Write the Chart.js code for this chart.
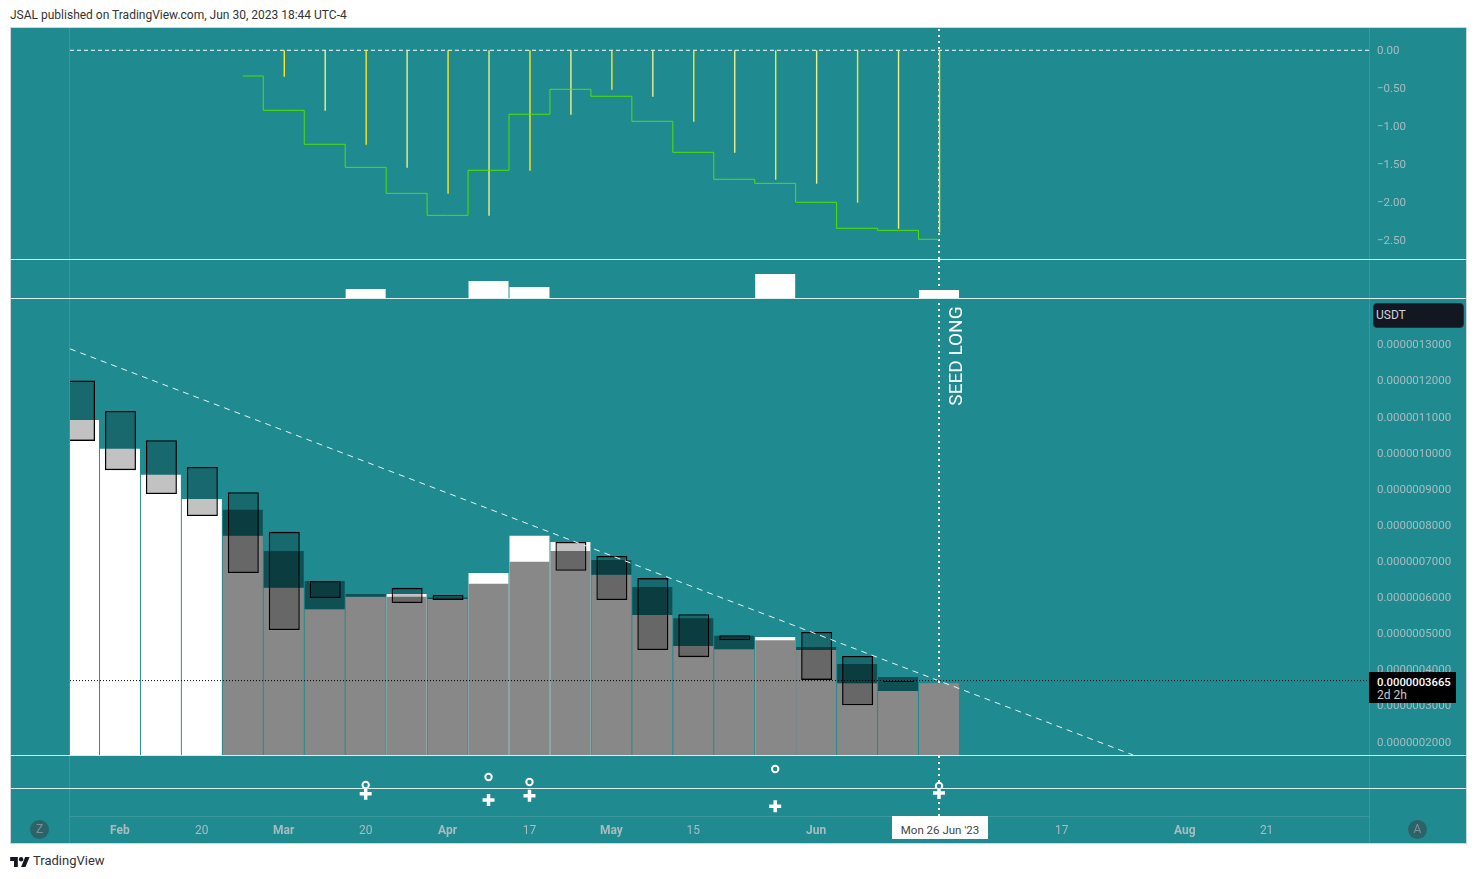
<!DOCTYPE html>
<html>
<head>
<meta charset="utf-8">
<title>JSAL weekly</title>
<script src="https://cdn.jsdelivr.net/npm/chart.js"></script>
<style>
    html, body { margin: 0; padding: 0; background: #fff; overflow: hidden; }
    body { width: 1477px; height: 879px; position: relative; font-family: Roboto, sans-serif; }
    canvas, .abs { position: absolute; }
    #frame { left: 10px; top: 27px; width: 1455px; height: 815px; background: #1f8a90; border: 1px solid #d1d4dc; }
    .vline { top: 28px; width: 1px; height: 815px; background: #3a989d; }
    .sep { left: 11px; width: 1455px; height: 1px; background: #dcefef; z-index: 5; }
    #title { left: 10px; top: 7px; font-size: 12px; line-height: 16px; color: #333; white-space: nowrap; }
    #brand { left: 33px; top: 853px; font-size: 13px; line-height: 16px; color: #333; }
    #logo { left: 10px; top: 856px; }
    #usdt { left: 1373px; top: 303px; width: 87px; height: 23px; padding-left: 2px; line-height: 22px; font-size: 12px; color: #d1d4dc; background: #131722; border: 1px solid #2a2e39; border-radius: 4px; z-index: 6; }
    #lastBox { left: 1369px; top: 672px; width: 87px; height: 31px; background: #000; z-index: 6; }
    #lastVal { left: 8px; top: 4px; font-size: 11.3px; line-height: 14px; font-weight: 500; color: #fff; }
    #lastLeft { left: 8px; top: 17px; font-size: 12px; line-height: 13px; color: #c8c8c8; }
    #seed { left: 906px; top: 344px; width: 100px; text-align: center; font-size: 19px; line-height: 24px; color: #fff; transform: rotate(-90deg); white-space: nowrap; z-index: 6; }
    #crossDate { left: 892px; top: 816px; width: 96px; height: 23px; line-height: 28px; text-align: center; font-size: 11.5px; color: #444; background: #fff; z-index: 6; }
    .round { width: 19px; height: 19px; top: 820px; border-radius: 50%; background: #2a6468; color: #7f8f94; font-size: 12px; line-height: 19px; text-align: center; z-index: 6; }
</style>
</head>
<body>
<div id="frame" class="abs"></div>
<div class="abs vline" style="left:69px"></div>
<div class="abs vline" style="left:1369px"></div>
<div class="abs sep" style="top:259px"></div>
<div class="abs sep" style="top:298px"></div>
<div class="abs sep" style="top:755px"></div>
<div class="abs sep" style="top:788px"></div>

<div id="title" class="abs">JSAL published on TradingView.com, Jun 30, 2023 18:44 UTC-4</div>
<svg id="logo" class="abs" width="20" height="12" viewBox="0 0 36 22"><path fill="#131722" d="M14 20H7V9H0V2h14v18zM28 20h-8l7.5-18h8L28 20z"/><circle fill="#131722" cx="20" cy="6" r="4"/></svg>
<div id="brand" class="abs">TradingView</div>
<div id="usdt" class="abs">USDT</div>
<div id="lastBox" class="abs"><div id="lastVal" class="abs">0.0000003665</div><div id="lastLeft" class="abs">2d 2h</div></div>
<div id="seed" class="abs">SEED LONG</div>
<div id="crossDate" class="abs">Mon 26 Jun '23</div>
<div class="abs round" style="left:30px">Z</div>
<div class="abs round" style="left:1408px">A</div>

<script>
'use strict';

// ── Data, one slot per weekly bar (0 = 30 Jan 2023, 21 = 26 Jun 2023) ───────

// Prices are in units of 1e-7 USDT
var whiteTop = [10.91, 10.11, 9.39, 8.72, null, null, null, null, 6.09, null, 6.67, 7.70, 7.53, null, null, null, null, 4.90, null, null, null, null];
var grayTop = [null, null, null, null, 7.70, 6.26, 5.67, 6.01, 6.01, 5.95, 6.37, 6.98, 7.28, 6.62, 5.51, 4.65, 4.56, 4.81, 4.54, 3.62, 3.40, 3.62];
var darkTop = [null, null, null, null, 8.42, 7.28, 6.45, 6.09, null, 5.99, null, null, null, 7.03, 6.28, 5.42, 4.93, null, 4.62, 4.15, 3.79, null];
var boxHigh = [12.00, 11.16, 10.35, 9.61, 8.91, 7.81, 6.45, null, 6.26, 6.06, null, null, 7.53, 7.14, 6.53, 5.53, 4.95, null, 5.04, 4.37, 3.68, null];
var boxLow = [10.33, 9.52, 8.86, 8.25, 6.67, 5.09, 5.98, null, 5.84, 5.92, null, null, 6.73, 5.92, 4.54, 4.34, 4.81, null, 3.71, 3.01, 3.65, null];
var trendWeek = [-0.22, 25.74];
var trendPrice = [12.88, 1.63];
var lastPrice = 3.69;
var priceTicks = [2, 3, 4, 5, 6, 7, 8, 9, 10, 11, 12, 13];

// Upper oscillator
var oscStep = [null, null, null, null, -0.339, -0.792, -1.240, -1.544, -1.887, -2.177, -1.583, -0.844, -0.515, -0.607, -0.937, -1.346, -1.702, -1.755, -2.005, -2.348, -2.375, -2.493];
var oscSpike = [null, null, null, null, null, -0.35, -0.797, -1.245, -1.549, -1.892, -2.182, -1.588, -0.85, -0.52, -0.612, -0.943, -1.35, -1.708, -1.76, -2.011, -2.354, -2.40];
var oscTicks = [0, -0.5, -1, -1.5, -2, -2.5];

// Signal panes
var volumes = [null, null, null, null, null, null, null, 9, null, null, 17, 11, null, null, null, null, null, 24, null, null, null, 8];
var circleLevel = [null, null, null, null, null, null, null, 3, null, null, 11, 6, null, null, null, null, null, 19, null, null, null, 2];
var crossLevel = [null, null, null, null, null, null, null, 22.3, null, null, 16, 20.3, null, null, null, null, null, 9.7, null, null, null, 23];

// Time axis
var timeTickWeeks = [1, 3, 5, 7, 9, 11, 13, 15, 18, 24, 27, 29];
var timeTickLabels = ['Feb', '20', 'Mar', '20', 'Apr', '17', 'May', '15', 'Jun', '17', 'Aug', '21'];
var crossWeek = 21;

// ── Shared settings ─────────────────────────────────────────────────────────

var X_MIN = -0.22;
var X_MAX = 31.5;
var TEAL = '#1f8a90';
var TICK_COLOR = '#a9bcc0';
var FONT = 'Roboto, sans-serif';
// boxes and spikes sit half a pixel right of the wide bars in the original
var NUDGE = 0.012;

Chart.defaults.animation = false;
Chart.defaults.responsive = false;
Chart.defaults.plugins.legend.display = false;
Chart.defaults.plugins.tooltip.enabled = false;

function points(values) {
    var out = [];
    values.forEach(function(v, i) {
        if (v !== null) out.push({ x: i, y: v });
    });
    return out;
}

function ranges(highs, lows, nudge) {
    var out = [];
    highs.forEach(function(h, i) {
        if (h !== null && lows[i] !== null) out.push({ x: i + (nudge || 0), y: [lows[i], h] });
    });
    return out;
}

function bars(data, color, thickness, order) {
    return {
        type: 'bar', data: data, backgroundColor: color, borderWidth: 0,
        barThickness: thickness, grouped: false, inflateAmount: 0, order: order
    };
}

function pane(top, height, yMin, yMax, datasets, opts) {
    opts = opts || {};
    var canvas = document.createElement('canvas');
    canvas.width = 1457;
    canvas.height = height;
    canvas.style.left = '10px';
    canvas.style.top = top + 'px';
    document.body.appendChild(canvas);

    // the crosshair runs under everything else in each pane
    datasets.push({
        type: 'line',
        data: [{ x: crossWeek, y: yMin }, { x: crossWeek, y: yMax }],
        borderColor: '#fff', borderWidth: 2, borderDash: [2, 4], pointRadius: 0, order: 100
    });

    return new Chart(canvas, {
        type: 'bar',
        data: { datasets: datasets },
        options: {
            layout: { autoPadding: false, padding: { left: 60, right: 0, top: 0, bottom: 0 } },
            scales: {
                x: {
                    type: 'linear', offset: false, min: X_MIN, max: X_MAX,
                    display: !!opts.timeAxis,
                    grid: { display: false, drawTicks: false },
                    border: { display: true, color: '#3a989d' },
                    ticks: {
                        autoSkip: false, maxRotation: 0, padding: 8, color: TICK_COLOR,
                        font: function(ctx) {
                            var isMonth = ctx.tick && isNaN(parseInt(ctx.tick.label, 10));
                            return { family: FONT, size: 12, weight: isMonth ? '700' : '400' };
                        },
                        callback: function(value) {
                            return timeTickLabels[timeTickWeeks.indexOf(value)];
                        }
                    },
                    afterBuildTicks: function(scale) {
                        scale.ticks = timeTickWeeks.map(function(w) { return { value: w }; });
                    },
                    afterFit: function(scale) {
                        scale.height = opts.timeAxis ? 26 : 0;
                        scale.paddingLeft = 0;
                        scale.paddingRight = 0;
                    }
                },
                y: {
                    position: 'right', min: yMin, max: yMax, bounds: 'data',
                    grid: { display: false, drawTicks: false },
                    border: { display: false },
                    ticks: {
                        display: !!opts.ticks, crossAlign: 'near', padding: 8, autoSkip: false, labelOffset: 1,
                        color: TICK_COLOR, font: { family: FONT, size: 11.5 },
                        callback: opts.tickLabel
                    },
                    afterBuildTicks: function(scale) {
                        if (opts.ticks) scale.ticks = opts.ticks.map(function(v) { return { value: v }; });
                    },
                    afterFit: function(scale) {
                        scale.width = 98;
                        scale.paddingTop = 0;
                        scale.paddingBottom = 0;
                    }
                }
            }
        }
    });
}

// ── Oscillator pane ─────────────────────────────────────────────────────────

var spikes = bars(ranges(oscSpike.map(function(v) { return v === null ? null : 0; }), oscSpike, NUDGE), '#ffe61e', 1.4, 2);
// every other spike is paler in the original
spikes.backgroundColor = function(ctx) {
    return Math.round(ctx.raw.x) % 2 ? '#ffe61e' : '#eef08a';
};

pane(27, 232, -2.753, 0.307, [
    {
        type: 'line', data: points(oscStep), stepped: 'middle',
        borderColor: '#55e000', borderWidth: 1, pointRadius: 0, order: 1
    },
    {
        type: 'line', data: [{ x: X_MIN, y: 0 }, { x: X_MAX, y: 0 }],
        borderColor: '#fff', borderWidth: 1, borderDash: [4, 3], pointRadius: 0, order: 3
    },
    spikes
], {
    ticks: oscTicks,
    tickLabel: function(v) {
        return v === 0 ? '0.00' : '\u2212' + Math.abs(v).toFixed(2);
    }
});

// ── Volume pane ─────────────────────────────────────────────────────────────

pane(260, 38, 0, 38, [bars(points(volumes), '#fff', 40, 1)]);

// ── Price pane ──────────────────────────────────────────────────────────────

pane(299, 456, 1.63, 14.26, [
    {
        type: 'line', data: [{ x: X_MIN, y: lastPrice }, { x: X_MAX, y: lastPrice }],
        borderColor: '#000', borderWidth: 1, borderDash: [1, 2], pointRadius: 0, order: 1
    },
    {
        type: 'line',
        data: [{ x: trendWeek[0], y: trendPrice[0] }, { x: trendWeek[1], y: trendPrice[1] }],
        borderColor: '#e8f4f4', borderWidth: 1, borderDash: [6, 5], pointRadius: 0, order: 2
    },
    {
        type: 'bar', data: ranges(boxHigh, boxLow, NUDGE), backgroundColor: 'rgba(0,0,0,0.24)',
        borderColor: '#000', borderWidth: 1.3, borderSkipped: false,
        barThickness: 31, grouped: false, inflateAmount: 0, order: 3
    },
    bars(ranges(darkTop, grayTop), '#0f5055', 40, 4),
    bars(points(grayTop), '#888888', 40, 5),
    bars(points(whiteTop), '#ffffff', 40, 6)
], {
    ticks: priceTicks,
    tickLabel: function(v) {
        return (v / 1e7).toFixed(10);
    }
});

// ── Circle signals ──────────────────────────────────────────────────────────

pane(756, 32, 0, 32, [{
    type: 'line', data: points(circleLevel), showLine: false, pointStyle: 'circle',
    pointRadius: 3.2, pointBorderWidth: 2, pointBorderColor: '#fff', pointBackgroundColor: TEAL, order: 1
}]);

// ── Cross signals, with the time axis underneath ────────────────────────────

pane(789, 53, 0, 27, [{
    type: 'line', data: points(crossLevel), showLine: false, pointStyle: 'cross',
    pointRadius: 6, pointBorderWidth: 3.5, pointBorderColor: '#fff', order: 1
}], { timeAxis: true });
</script>
</body>
</html>
